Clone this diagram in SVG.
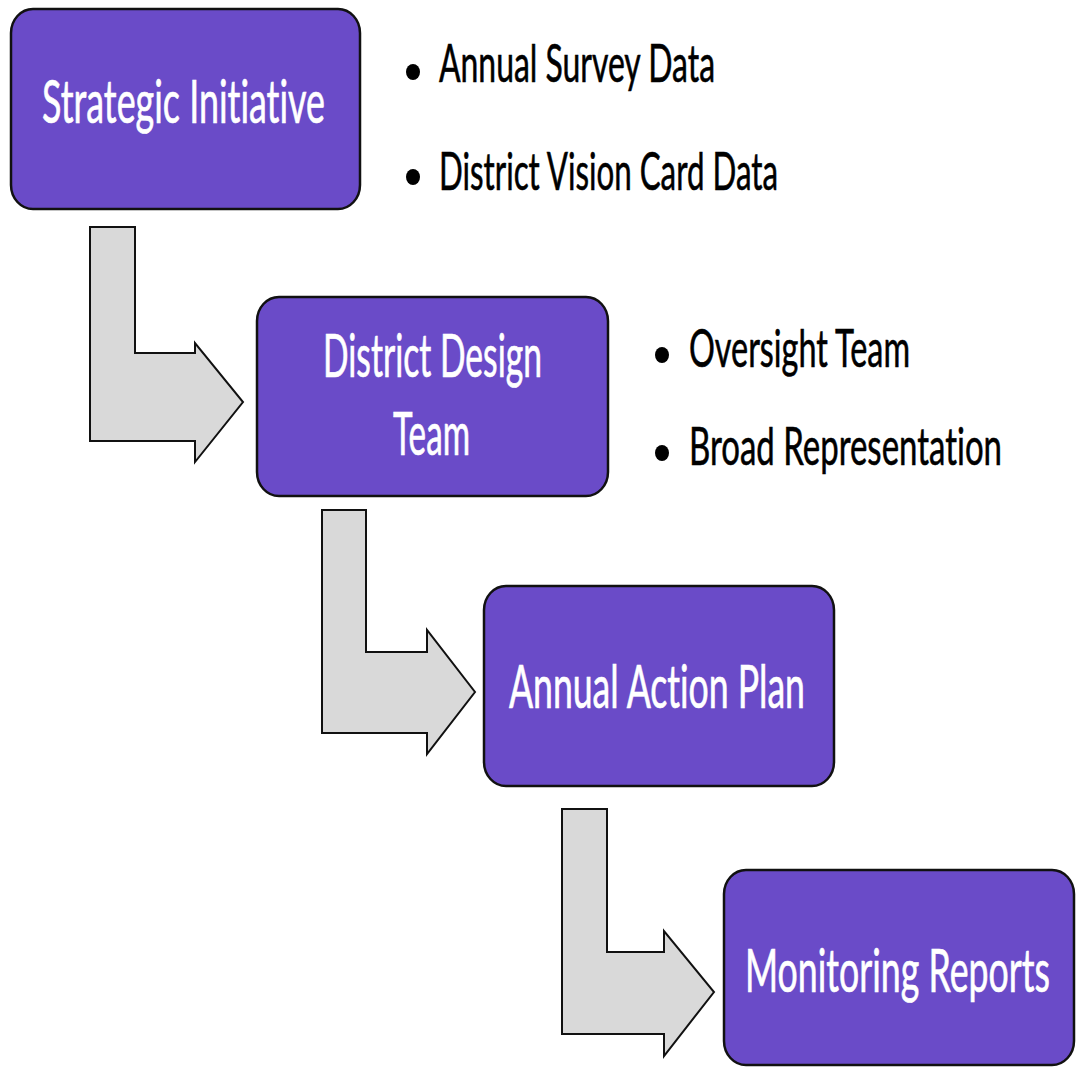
<svg xmlns="http://www.w3.org/2000/svg" width="1077" height="1067" viewBox="0 0 1077 1067">
<style>
.box{fill:#6a4bc8;stroke:#111;stroke-width:2.5}
.arr{fill:#d9d9d9;stroke:#111;stroke-width:2;stroke-linejoin:miter}
.bt{font-family:Lato,"Open Sans","Liberation Sans",sans-serif;font-size:60px;fill:#ffffff;stroke:#ffffff;stroke-width:0.7;font-variant-ligatures:none}
.lt{font-family:Lato,"Open Sans","Liberation Sans",sans-serif;font-size:52px;fill:#000;stroke:#000;stroke-width:0.6;font-variant-ligatures:none}
.dot{fill:#000}
</style>
<rect width="1077" height="1067" fill="#ffffff"/>
<g id="connectors">
<path class="arr" d="M90,227 H135 V353 H195 V343 L243,402 L195,462 V441 H90 Z"/>
<path class="arr" d="M322,510 H366 V652 H427 V630 L475,692 L427,754 V733 H322 Z"/>
<path class="arr" d="M562,809 H607 V952 H664 V931 L714,992 L664,1056 V1034 H562 Z"/>
</g>
<g id="strategic-initiative">
<rect class="box" x="11" y="9" width="349" height="200" rx="22" ry="24"/>
<text class="bt" transform="translate(42,123) scale(0.62,1)" textLength="456.5" lengthAdjust="spacingAndGlyphs">Strategic Initiative</text>
</g>
<g id="district-design-team">
<rect class="box" x="257" y="297" width="351" height="199" rx="22" ry="24"/>
<text class="bt" transform="translate(323,377) scale(0.62,1)" textLength="353.2" lengthAdjust="spacingAndGlyphs">District Design</text>
<text class="bt" transform="translate(393,455) scale(0.62,1)" textLength="124.2" lengthAdjust="spacingAndGlyphs">Team</text>
</g>
<g id="annual-action-plan">
<rect class="box" x="484" y="586" width="350" height="200" rx="22" ry="24"/>
<text class="bt" transform="translate(509,708) scale(0.62,1)" textLength="477.4" lengthAdjust="spacingAndGlyphs">Annual Action Plan</text>
</g>
<g id="monitoring-reports">
<rect class="box" x="724" y="870" width="350" height="195" rx="22" ry="24"/>
<text class="bt" transform="translate(745,992) scale(0.62,1)" textLength="491.9" lengthAdjust="spacingAndGlyphs">Monitoring Reports</text>
</g>
<g id="bullets-strategic">
<ellipse class="dot" cx="413" cy="72" rx="7" ry="8"/>
<text class="lt" transform="translate(439,82) scale(0.62,1)" textLength="445.2" lengthAdjust="spacingAndGlyphs">Annual Survey Data</text>
<ellipse class="dot" cx="413" cy="177" rx="7" ry="8"/>
<text class="lt" transform="translate(439,190) scale(0.62,1)" textLength="546.8" lengthAdjust="spacingAndGlyphs">District Vision Card Data</text>
</g>
<g id="bullets-design">
<ellipse class="dot" cx="662" cy="355" rx="7" ry="8"/>
<text class="lt" transform="translate(689,367) scale(0.62,1)" textLength="356.5" lengthAdjust="spacingAndGlyphs">Oversight Team</text>
<ellipse class="dot" cx="662" cy="453" rx="7" ry="8"/>
<text class="lt" transform="translate(689,465) scale(0.62,1)" textLength="504.8" lengthAdjust="spacingAndGlyphs">Broad Representation</text>
</g>
</svg>
